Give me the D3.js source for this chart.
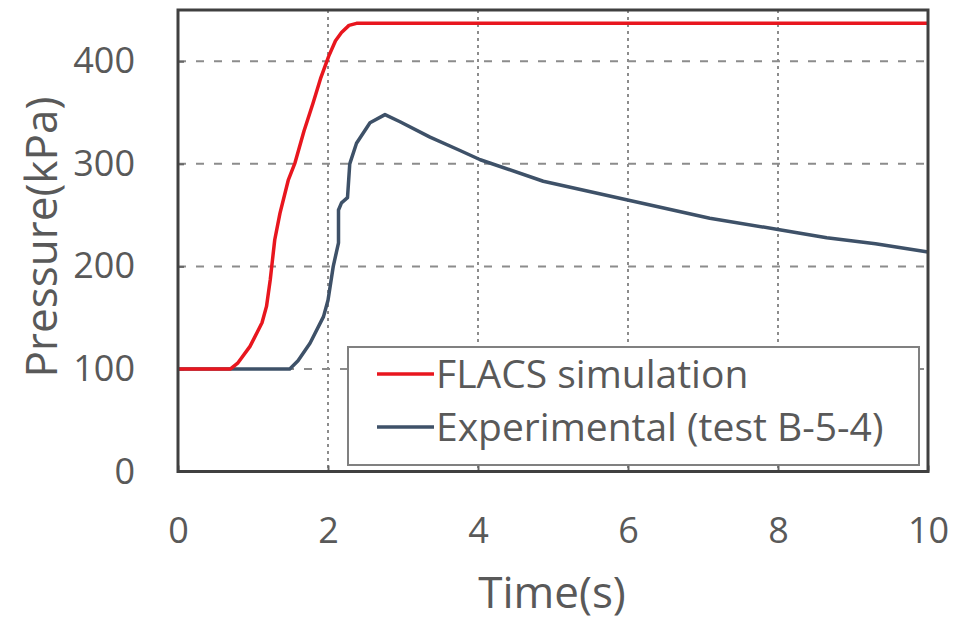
<!DOCTYPE html>
<html>
<head>
<meta charset="utf-8">
<script src="https://cdn.jsdelivr.net/npm/d3@7"></script>
<style>
  html, body { margin: 0; padding: 0; background: #fff; }
  svg { display: block; }
  text { font-family: "Open Sans", "Noto Sans", sans-serif; fill: #595959; }
</style>
</head>
<body>
<svg id="chart" width="957" height="626"></svg>
<script>
// ---- data ----
const xTicks = [0, 2, 4, 6, 8, 10];
const yTicks = [0, 100, 200, 300, 400];

const flacsTime     = [0, 0.70, 0.80, 0.96, 1.12, 1.18, 1.23, 1.25, 1.29, 1.36, 1.47, 1.56, 1.68, 1.80, 1.90, 2.01, 2.10, 2.18, 2.28, 2.38, 10];
const flacsPressure = [100, 100, 106, 122, 145, 161, 187, 200, 226, 252, 284, 301, 332, 359, 383, 405, 420, 428, 435, 437, 437];

const expTime     = [0, 1.49, 1.6, 1.76, 1.94, 2.00, 2.07, 2.14, 2.14, 2.18, 2.26, 2.29, 2.38, 2.56, 2.76, 2.96, 3.36, 3.76, 4.03, 4.87, 5.98, 7.09, 8.0, 8.65, 9.3, 10];
const expPressure = [100, 100, 108, 125, 151, 167, 200, 223, 255, 262, 267, 300, 320, 340, 348, 341, 326, 313, 304, 283, 265, 247, 236, 228, 222, 214];

const seriesNames = ["FLACS simulation", "Experimental (test B-5-4)"];
const seriesColors = ["#e8161e", "#3e5168"];

// ---- layout ----
const svg = d3.select("#chart");
const L = 178, R = 928, T = 10, B = 471.5;
const x = d3.scaleLinear().domain([0, 10]).range([L, R]);
const y = d3.scaleLinear().domain([0, 450]).range([B, T]);

// gridlines
svg.append("g").selectAll("line").data(yTicks.filter(d => d > 0)).join("line")
  .attr("x1", L).attr("x2", R).attr("y1", d => y(d)).attr("y2", d => y(d))
  .attr("stroke", "#8c8c8c").attr("stroke-width", 2).attr("stroke-dasharray", "8,10");
svg.append("g").selectAll("line").data(xTicks.filter(d => d > 0 && d < 10)).join("line")
  .attr("x1", d => x(d)).attr("x2", d => x(d)).attr("y1", T).attr("y2", B)
  .attr("stroke", "#8c8c8c").attr("stroke-width", 2).attr("stroke-dasharray", "3,4");

// axes
const xAxis = d3.axisBottom(x).tickValues(xTicks).tickSize(-6).tickPadding(46).tickFormat(d3.format("d"));
const gx = svg.append("g").attr("transform", `translate(0,${B})`).call(xAxis);
gx.select(".domain").remove();
gx.selectAll(".tick line").attr("stroke", "#666").attr("stroke-width", 2);
gx.selectAll("text").attr("font-size", 36).style("fill", "#595959");

const yAxis = d3.axisLeft(y).tickValues(yTicks).tickSize(-6).tickPadding(43).tickFormat(d3.format("d"));
const gy = svg.append("g").attr("transform", `translate(${L},0)`).call(yAxis);
gy.select(".domain").remove();
gy.selectAll(".tick line").attr("stroke", "#666").attr("stroke-width", 2);
gy.selectAll("text").attr("font-size", 36).style("fill", "#595959");

// lines
const line = d3.line().x(d => x(d[0])).y(d => y(d[1]));
svg.append("path").datum(d3.zip(expTime, expPressure))
  .attr("d", line).attr("fill", "none").attr("stroke", seriesColors[1]).attr("stroke-width", 3.5)
  .attr("stroke-linejoin", "round");
svg.append("path").datum(d3.zip(flacsTime, flacsPressure))
  .attr("d", line).attr("fill", "none").attr("stroke", seriesColors[0]).attr("stroke-width", 3.5)
  .attr("stroke-linejoin", "round");

// frame
svg.append("rect").attr("x", L).attr("y", T).attr("width", R - L).attr("height", B - T)
  .attr("fill", "none").attr("stroke", "#404040").attr("stroke-width", 3);

// legend
const lg = svg.append("g");
lg.append("rect").attr("x", 348).attr("y", 347).attr("width", 571).attr("height", 118)
  .attr("fill", "#fff").attr("stroke", "#808080").attr("stroke-width", 2);
seriesNames.forEach((name, i) => {
  const cy = 374 + i * 53;
  lg.append("line").attr("x1", 377).attr("x2", 434).attr("y1", cy).attr("y2", cy)
    .attr("stroke", seriesColors[i]).attr("stroke-width", 3.5);
  lg.append("text").attr("x", 436).attr("y", cy).attr("dy", "0.35em")
    .attr("font-size", 39).text(name);
});

// axis titles
svg.append("text").attr("x", 552).attr("y", 608)
  .attr("text-anchor", "middle").attr("font-size", 44).text("Time(s)");
svg.append("text").attr("transform", "translate(42,237) rotate(-90)").attr("dy", "0.35em")
  .attr("text-anchor", "middle").attr("font-size", 44).text("Pressure(kPa)");
</script>
</body>
</html>
